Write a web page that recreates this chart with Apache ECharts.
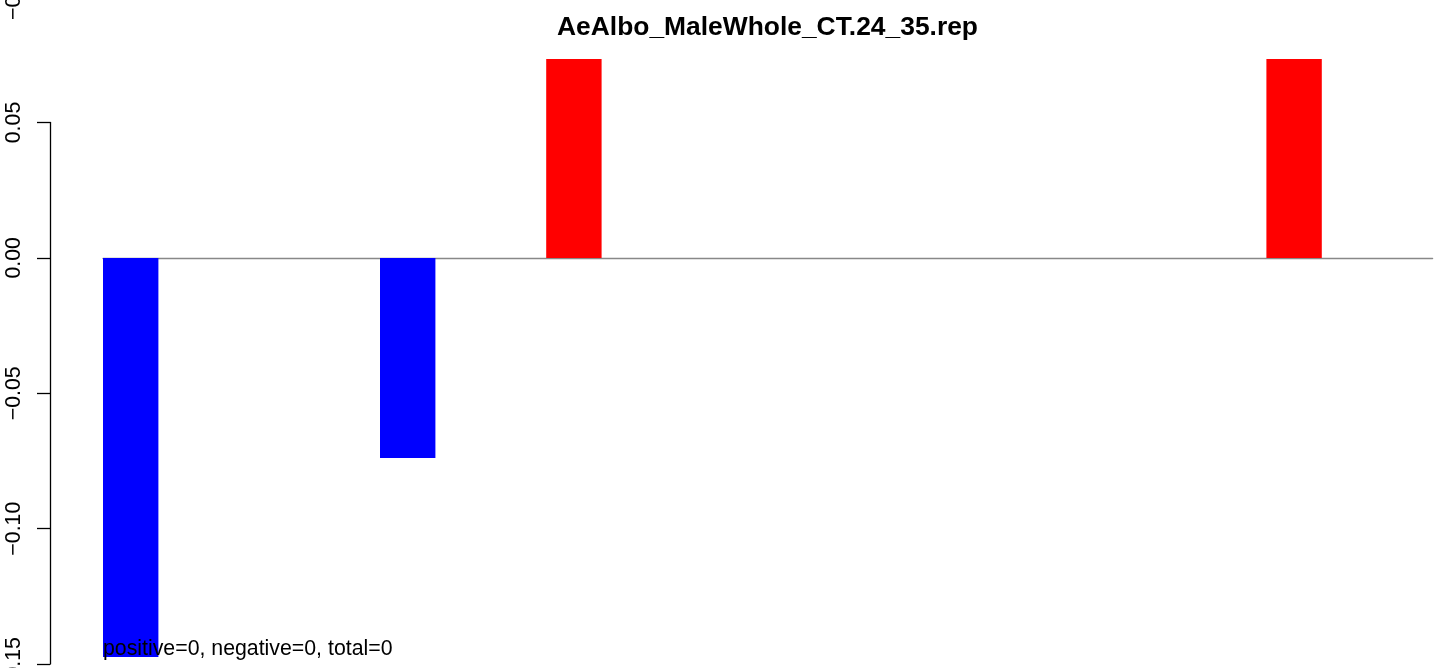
<!DOCTYPE html>
<html>
<head>
<meta charset="utf-8">
<script src="https://cdn.jsdelivr.net/npm/echarts@6/dist/echarts.min.js"></script>
<style>
  html, body { margin: 0; padding: 0; background: #fff; }
  #chart { width: 1449px; height: 668px; }
</style>
</head>
<body>
<div id="chart"></div>
<script>
const titleText = 'AeAlbo_MaleWhole_CT.24_35.rep';
const noteText = 'positive=0, negative=0, total=0';
const categories = ['1','2','3','4','5','6','7','8','9','10','11','12','13','14','15','16','17','18','19','20','21','22','23','24'];
const values = [-0.1474, 0, 0, 0, 0, -0.0739, 0, 0, 0.0735, 0, 0, 0, 0, 0, 0, 0, 0, 0, 0, 0, 0, 0.0735, 0, 0];
const yTicks = [-0.15, -0.10, -0.05, 0.00, 0.05];
const strayLabel = '\u22120.10';

const FONT = "'Liberation Sans', Arial, Helvetica, sans-serif";
const fmt = v => (v < -1e-9 ? '\u2212' : '') + Math.abs(v).toFixed(2);

const chart = echarts.init(document.getElementById('chart'), null, { renderer: 'canvas' });
chart.setOption({
  animation: false,
  backgroundColor: '#ffffff',
  title: [
    {
      text: titleText,
      left: 767.5, top: 15, textAlign: 'center', padding: 0,
      textStyle: { fontFamily: FONT, fontSize: 26.4, fontWeight: 'bold', color: '#000' }
    },
    {
      text: noteText,
      left: 103, top: 639, padding: 0, z: 10,
      textStyle: { fontFamily: FONT, fontSize: 21.3, fontWeight: 'normal', color: '#000' }
    }
  ],
  grid: [
    { left: 103, right: 16.4, top: 41.3, bottom: 3.9, outerBoundsMode: 'none', containLabel: false },
    { left: 50, right: 16.4, top: 122.5, bottom: 3.9, outerBoundsMode: 'none', containLabel: false }
  ],
  xAxis: [
    {
      type: 'category', gridIndex: 0, data: categories,
      axisLine: { show: true, onZero: true, lineStyle: { color: '#888', width: 1.3 } },
      axisTick: { show: false }, axisLabel: { show: false }, splitLine: { show: false }
    },
    { type: 'value', gridIndex: 1, show: false }
  ],
  yAxis: [
    { type: 'value', gridIndex: 0, min: -0.15, max: 0.08, show: false },
    {
      type: 'value', gridIndex: 1, min: yTicks[0], max: yTicks[yTicks.length - 1], interval: 0.05,
      axisLine: { show: true, lineStyle: { color: '#000', width: 1.3 } },
      axisTick: { show: true, length: 13, lineStyle: { color: '#000', width: 1.3 } },
      axisLabel: { show: true, rotate: 90, margin: 25, formatter: fmt, hideOverlap: false,
        showMinLabel: true, showMaxLabel: true,
        fontFamily: FONT, fontSize: 21.3, color: '#000' },
      splitLine: { show: false }
    }
  ],
  series: [
    {
      type: 'bar', xAxisIndex: 0, yAxisIndex: 0, data: values,
      barWidth: '100%', barCategoryGap: '0%',
      itemStyle: { color: p => (p.value < 0 ? '#0000FF' : '#FF0000') }
    }
  ],
  graphic: [
    {
      type: 'text', x: 25, y: -7, rotation: Math.PI / 2,
      style: { text: strayLabel, fontFamily: FONT, fontSize: 21.3, fill: '#000',
        textAlign: 'center', textVerticalAlign: 'bottom' }
    }
  ]
});
</script>
</body>
</html>
